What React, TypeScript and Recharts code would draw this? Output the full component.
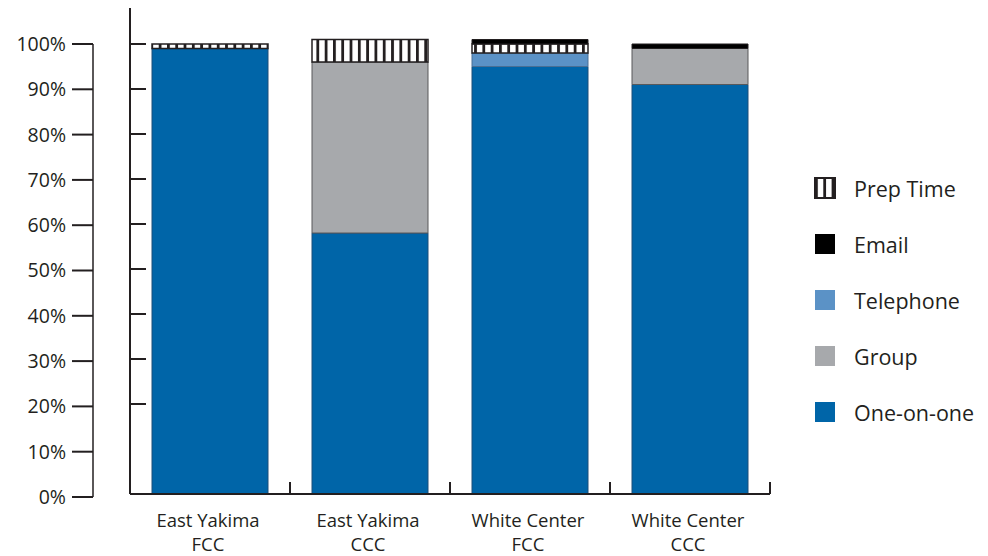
import { BarChart, Bar, XAxis, YAxis, Legend } from 'recharts'

const categories = ['East Yakima FCC', 'East Yakima CCC', 'White Center FCC', 'White Center CCC']
const oneOnOne = [99, 58, 95, 91]
const group = [0, 38, 0, 8]
const telephone = [0, 0, 3, 0]
const prepTime = [1, 5, 2, 0]
const email = [0, 0, 1, 1]
const percentTicks = [0, 10, 20, 30, 40, 50, 60, 70, 80, 90, 100]
const innerTicks = [20, 30, 40, 50, 60, 70, 80, 90, 100]
const legendOrder = ['prepTime', 'email', 'telephone', 'group', 'oneOnOne']

const series = [
  { key: 'oneOnOne', name: 'One-on-one', fill: '#0065a8', stroke: '#1d4f78' },
  { key: 'group', name: 'Group', fill: '#a7a9ac', stroke: '#58595b' },
  { key: 'telephone', name: 'Telephone', fill: '#5b92c6', stroke: '#4a6f94' },
  { key: 'prepTime', name: 'Prep Time', fill: 'url(#prepStripes)', stroke: '#231f20' },
  { key: 'email', name: 'Email', fill: '#000000', stroke: '#231f20' },
]

const data = categories.map((name, i) => ({
  name,
  oneOnOne: oneOnOne[i],
  group: group[i],
  telephone: telephone[i],
  prepTime: prepTime[i],
  email: email[i],
}))

const ink = '#231f20'
const font = '"Open Sans", "Noto Sans", sans-serif'

const Stripes = ({ id }: { id: string }) => (
  <defs>
    <pattern id={id} patternUnits="userSpaceOnUse" width={8.3} height={8} x={1}>
      <rect width={8.3} height={8} fill="#fff" />
      <rect width={2.8} height={8} fill={ink} />
    </pattern>
  </defs>
)

const CategoryTick = (props: any) => {
  const { x, y, payload } = props
  const half = payload.offset ?? 80
  const parts = String(payload.value).split(' ')
  const program = parts.pop()
  const site = parts.join(' ')
  return (
    <g>
      <line x1={x + half} x2={x + half} y1={y} y2={y - 12} stroke={ink} strokeWidth={2} />
      <text x={x} y={y} textAnchor="middle" fill={ink} fontSize={18.5} fontFamily={font}>
        <tspan x={x - 2} dy={33}>{site}</tspan>
        <tspan x={x - 2} dy={24}>{program}</tspan>
      </text>
    </g>
  )
}

const NoLabel = () => <g />

const LegendList = () => (
  <div style={{ fontFamily: font, fontSize: 21.5, color: ink }}>
    {legendOrder.map((k) => {
      const s = series.find((d) => d.key === k)!
      return (
        <div key={s.key} style={{ display: 'flex', alignItems: 'center', height: 56 }}>
          <svg width={22} height={22} style={{ marginRight: 18 }}>
            <Stripes id="legendStripes" />
            <rect
              x={1}
              y={1}
              width={20}
              height={20}
              fill={s.key === 'prepTime' ? 'url(#legendStripes)' : s.fill}
              stroke={s.key === 'prepTime' ? ink : 'none'}
              strokeWidth={2}
            />
          </svg>
          <span>{s.name}</span>
        </div>
      )
    })}
  </div>
)

export default function App() {
  return (
    <div style={{ position: 'absolute', left: 0, top: 0, width: 988, height: 556, background: '#fff' }}>
      {/* outer percent scale and legend */}
      <div style={{ position: 'absolute', left: 0, top: 0 }}>
        <BarChart width={988} height={556} data={data} margin={{ top: 44, right: 218, bottom: 59, left: 0 }}>
          <XAxis dataKey="name" hide />
          <YAxis
            type="number"
            domain={[0, 100]}
            ticks={percentTicks}
            interval={0}
            allowDataOverflow
            width={93}
            tickSize={21}
            tickMargin={6}
            axisLine={{ stroke: ink, strokeWidth: 1.5 }}
            tickLine={{ stroke: ink, strokeWidth: 2 }}
            tickFormatter={(v) => `${v}%`}
            tick={{ fill: ink, fontSize: 19.5, fontFamily: font }}
          />
          <Bar dataKey="oneOnOne" fillOpacity={0} legendType="none" isAnimationActive={false} />
          <Legend
            layout="vertical"
            align="right"
            verticalAlign="middle"
            content={LegendList}
            wrapperStyle={{ left: 814, top: 160, width: 174 }}
          />
        </BarChart>
      </div>
      {/* stacked bars */}
      <div style={{ position: 'absolute', left: 0, top: 0 }}>
        <BarChart
          width={988}
          height={556}
          data={data}
          margin={{ top: 8, right: 218, bottom: 0, left: 0 }}
          barCategoryGap={22}
        >
          <Stripes id="prepStripes" />
          <XAxis
            dataKey="name"
            height={62}
            interval={0}
            tickSize={0}
            tickMargin={0}
            tickLine={false}
            axisLine={{ stroke: ink, strokeWidth: 2 }}
            tick={CategoryTick}
          />
          <YAxis
            type="number"
            domain={[0, 108]}
            ticks={innerTicks}
            interval={0}
            width={130}
            tickSize={-16}
            axisLine={{ stroke: ink, strokeWidth: 2 }}
            tickLine={{ stroke: ink, strokeWidth: 2 }}
            tick={NoLabel}
          />
          {series.map((s) => (
            <Bar
              key={s.key}
              dataKey={s.key}
              name={s.name}
              stackId="share"
              fill={s.fill}
              stroke={s.stroke}
              strokeWidth={s.key === 'prepTime' ? 1.5 : 1}
              isAnimationActive={false}
            />
          ))}
        </BarChart>
      </div>
    </div>
  )
}
